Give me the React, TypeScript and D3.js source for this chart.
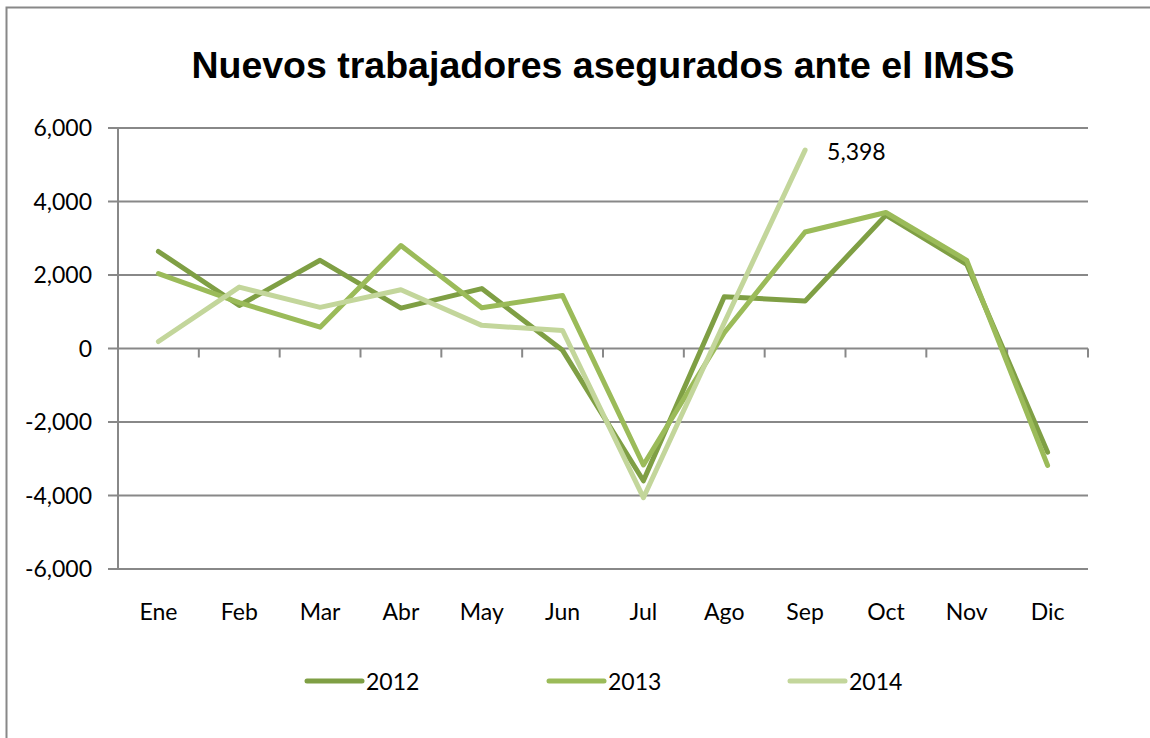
import React from "react";
import * as d3 from "d3";

const months = ["Ene", "Feb", "Mar", "Abr", "May", "Jun", "Jul", "Ago", "Sep", "Oct", "Nov", "Dic"];
const s2012 = [2640, 1170, 2400, 1100, 1630, -50, -3600, 1410, 1290, 3630, 2290, -2820];
const s2013 = [2040, 1250, 580, 2800, 1110, 1440, -3170, 430, 3170, 3700, 2400, -3180];
const s2014 = [190, 1670, 1120, 1600, 630, 490, -4060, 700, 5398];
const yTicks = [-6000, -4000, -2000, 0, 2000, 4000, 6000];
const seriesNames = ["2012", "2013", "2014"];
const colors = ["#7F9F44", "#9BBB59", "#C3D69B"];

const W = 1150;
const H = 738;

export default function App() {
  const x0 = 118, x1 = 1088;
  const band = d3.scaleBand<string>().domain(months).range([x0, x1]).padding(0);
  const cx = (m: string) => (band(m) as number) + band.bandwidth() / 2;
  const y = d3.scaleLinear().domain([-6000, 6000]).range([569, 128]);
  const line = d3
    .line<number>()
    .x((_, i) => cx(months[i]))
    .y((d) => y(d));
  const all = [s2012, s2013, s2014];
  const fmt = (v: number) => d3.format(",")(v).replace("\u2212", "-");
  const labelFont = "Lato, 'Open Sans', sans-serif";
  const legendX = [307, 549, 790];

  return (
    <svg
      width={W}
      height={H}
      style={{ position: "absolute", left: 0, top: 0, display: "block", background: "#fff" }}
    >
      <rect x={0} y={0} width={W} height={H} fill="#fff" />
      <rect x={6.5} y={7.5} width={1400} height={900} fill="none" stroke="#888" strokeWidth={2} />
      <text
        x={603}
        y={78}
        textAnchor="middle"
        fontFamily="'Liberation Sans', Arial, sans-serif"
        fontWeight="bold"
        fontSize={37.5}
        fill="#000"
      >
        Nuevos trabajadores asegurados ante el IMSS
      </text>
      {yTicks.map((t) => (
        <g key={t}>
          <line x1={108} x2={x1} y1={y(t)} y2={y(t)} stroke="#888" strokeWidth={2} />
          <text
            x={92}
            y={y(t) + 8}
            textAnchor="end"
            fontFamily={labelFont}
            fontSize={23}
            fill="#000"
          >
            {fmt(t)}
          </text>
        </g>
      ))}
      <line x1={x0} x2={x0} y1={y(6000)} y2={y(-6000)} stroke="#888" strokeWidth={2} />
      {months.map((m) => (
        <line
          key={"t" + m}
          x1={(band(m) as number) + band.bandwidth()}
          x2={(band(m) as number) + band.bandwidth()}
          y1={y(0)}
          y2={y(0) + 9}
          stroke="#888"
          strokeWidth={2}
        />
      ))}
      {months.map((m) => (
        <text
          key={m}
          x={cx(m)}
          y={620}
          textAnchor="middle"
          fontFamily={labelFont}
          fontSize={23}
          fill="#000"
        >
          {m}
        </text>
      ))}
      {all.map((s, i) => (
        <path
          key={i}
          d={line(s) || ""}
          fill="none"
          stroke={colors[i]}
          strokeWidth={5}
          strokeLinejoin="round"
          strokeLinecap="round"
        />
      ))}
      <text
        x={cx("Sep") + 22}
        y={y(s2014[8]) + 10}
        fontFamily={labelFont}
        fontSize={23}
        fill="#000"
      >
        {fmt(s2014[8])}
      </text>
      {seriesNames.map((n, i) => (
        <g key={n}>
          <line
            x1={legendX[i]}
            x2={legendX[i] + 55}
            y1={681}
            y2={681}
            stroke={colors[i]}
            strokeWidth={5}
            strokeLinecap="round"
          />
          <text x={legendX[i] + 59} y={690} fontFamily={labelFont} fontSize={23} fill="#000">
            {n}
          </text>
        </g>
      ))}
    </svg>
  );
}
